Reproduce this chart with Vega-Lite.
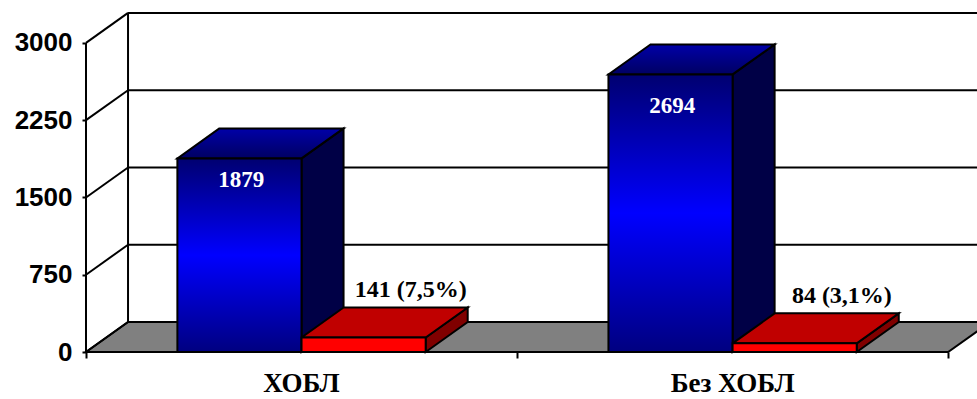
{
  "$schema": "https://vega.github.io/schema/vega-lite/v6.json",
  "width": 891,
  "height": 340,
  "autosize": {"type": "none"},
  "padding": {"left": 86, "top": 12, "right": 0, "bottom": 47},
  "background": "white",
  "config": {"view": {"stroke": null}},
  "datasets": {
    "bars": [
      {"cat": "ХОБЛ", "series": "Всего", "value": 1879, "label": "1879"},
      {"cat": "ХОБЛ", "series": "Умерли", "value": 141, "label": "141 (7,5%)"},
      {"cat": "Без ХОБЛ", "series": "Всего", "value": 2694, "label": "2694"},
      {"cat": "Без ХОБЛ", "series": "Умерли", "value": 84, "label": "84 (3,1%)"}
    ],
    "ticks": [{"v": 0}, {"v": 750}, {"v": 1500}, {"v": 2250}, {"v": 3000}]
  },
  "encoding": {
    "x": {"field": "X", "type": "quantitative", "stack": null,
      "scale": {"domain": [0, 2.067], "nice": false, "zero": false},
      "axis": {"values": [0, 1, 2], "labels": false, "domain": false, "grid": false, "ticks": true, "tickSize": 6, "tickWidth": 2, "tickColor": "black", "title": null}},
    "y": {"field": "Y", "type": "quantitative", "stack": null,
      "scale": {"domain": [0, 3300], "nice": false, "zero": false},
      "axis": {"values": [0, 750, 1500, 2250, 3000], "format": "d", "domain": false, "grid": false, "ticks": true, "tickSize": 4, "tickWidth": 2, "tickColor": "black",
        "labelFont": "Liberation Sans", "labelFontSize": 26, "labelFontWeight": "bold", "labelColor": "black", "labelPadding": 10, "labelFlush": false, "labelOverlap": false, "title": null}}
  },
  "layer": [
    {
      "data": {"name": "ticks"},
      "transform": [
        {"filter": "datum.v == 0"},
        {"calculate": "[0,1]", "as": "d"},
        {"flatten": ["d"]},
        {"calculate": "datum.d * 291", "as": "Y"},
        {"calculate": "datum.d * 0.0975", "as": "X"},
        {"calculate": "2 + datum.d * 0.0975", "as": "X2"}
      ],
      "mark": {"type": "area", "orient": "horizontal", "fill": "#808080", "stroke": "black", "strokeWidth": 2, "strokeJoin": "miter"},
      "encoding": {"x2": {"field": "X2"}}
    },
    {
      "data": {"name": "ticks"},
      "transform": [
        {"calculate": "datum.v + 291", "as": "Y"},
        {"calculate": "0.0975", "as": "X"},
        {"calculate": "2.2", "as": "X2"}
      ],
      "mark": {"type": "rule", "stroke": "black", "strokeWidth": 2},
      "encoding": {"x2": {"field": "X2"}}
    },
    {
      "data": {"name": "ticks"},
      "transform": [
        {"filter": "datum.v == 3000"},
        {"calculate": "291", "as": "Y"},
        {"calculate": "datum.v + 291", "as": "Y2"},
        {"calculate": "0.0975", "as": "X"}
      ],
      "mark": {"type": "rule", "stroke": "black", "strokeWidth": 2},
      "encoding": {"y2": {"field": "Y2"}}
    },
    {
      "data": {"name": "ticks"},
      "transform": [
        {"calculate": "datum.v", "as": "Y"},
        {"calculate": "datum.v + 291", "as": "Y2"},
        {"calculate": "0", "as": "X"},
        {"calculate": "0.0975", "as": "X2"}
      ],
      "mark": {"type": "rule", "stroke": "black", "strokeWidth": 2},
      "encoding": {"x2": {"field": "X2"}, "y2": {"field": "Y2"}}
    },
    {
      "data": {"name": "ticks"},
      "transform": [
        {"filter": "datum.v == 3000"},
        {"calculate": "0", "as": "Y"},
        {"calculate": "datum.v", "as": "Y2"},
        {"calculate": "0", "as": "X"}
      ],
      "mark": {"type": "rule", "stroke": "black", "strokeWidth": 2},
      "encoding": {"y2": {"field": "Y2"}}
    },
    {
      "data": {"name": "bars"},
      "transform": [
        {"calculate": "indexof(['ХОБЛ','Без ХОБЛ'], datum.cat)", "as": "ci"},
        {"calculate": "datum.series == 'Всего' ? 0 : 1", "as": "si"},
        {"calculate": "datum.ci + 0.212 + datum.si * 0.288", "as": "x0"},
        {"calculate": "datum.x0 + 0.288", "as": "x1"},
        {"calculate": "[0,1]", "as": "d"},
        {"flatten": ["d"]},
        {"calculate": "datum.x1 + datum.d * 0.0975", "as": "X"},
        {"calculate": "datum.d * 291", "as": "Y"},
        {"calculate": "datum.value + datum.d * 291", "as": "Y2"},
        {"calculate": "datum.cat + '|' + datum.series", "as": "key"}
      ],
      "mark": {"type": "area", "orient": "vertical", "stroke": "black", "strokeWidth": 2, "strokeJoin": "miter"},
      "encoding": {
        "y2": {"field": "Y2"},
        "detail": {"field": "key", "type": "nominal"},
        "fill": {"condition": {"test": "datum.si == 0", "value": "#000046"}, "value": "#800000"}
      }
    },
    {
      "data": {"name": "bars"},
      "transform": [
        {"calculate": "indexof(['ХОБЛ','Без ХОБЛ'], datum.cat)", "as": "ci"},
        {"calculate": "datum.series == 'Всего' ? 0 : 1", "as": "si"},
        {"filter": "datum.si == 0"},
        {"calculate": "datum.ci + 0.212 + datum.si * 0.288", "as": "x0"},
        {"calculate": "datum.x0 + 0.288", "as": "x1"},
        {"calculate": "[0,1]", "as": "d"},
        {"flatten": ["d"]},
        {"calculate": "datum.x0 + datum.d * 0.0975", "as": "X"},
        {"calculate": "datum.x1 + datum.d * 0.0975", "as": "X2"},
        {"calculate": "datum.value + datum.d * 291", "as": "Y"},
        {"calculate": "datum.cat + '|' + datum.series", "as": "key"}
      ],
      "mark": {"type": "area", "orient": "horizontal", "stroke": "black", "strokeWidth": 2, "strokeJoin": "miter",
        "fill": {"gradient": "linear", "x1": 0, "y1": 0, "x2": 0, "y2": 1, "stops": [{"offset": 0, "color": "#0000a8"}, {"offset": 1, "color": "#000062"}]}},
      "encoding": {
        "x2": {"field": "X2"},
        "detail": {"field": "key", "type": "nominal"}
      }
    },
    {
      "data": {"name": "bars"},
      "transform": [
        {"calculate": "indexof(['ХОБЛ','Без ХОБЛ'], datum.cat)", "as": "ci"},
        {"calculate": "datum.series == 'Всего' ? 0 : 1", "as": "si"},
        {"filter": "datum.si == 1"},
        {"calculate": "datum.ci + 0.212 + datum.si * 0.288", "as": "x0"},
        {"calculate": "datum.x0 + 0.288", "as": "x1"},
        {"calculate": "[0,1]", "as": "d"},
        {"flatten": ["d"]},
        {"calculate": "datum.x0 + datum.d * 0.0975", "as": "X"},
        {"calculate": "datum.x1 + datum.d * 0.0975", "as": "X2"},
        {"calculate": "datum.value + datum.d * 291", "as": "Y"},
        {"calculate": "datum.cat + '|' + datum.series", "as": "key"}
      ],
      "mark": {"type": "area", "orient": "horizontal", "stroke": "black", "strokeWidth": 2, "strokeJoin": "miter", "fill": "#c00000"},
      "encoding": {
        "x2": {"field": "X2"},
        "detail": {"field": "key", "type": "nominal"}
      }
    },
    {
      "data": {"name": "bars"},
      "transform": [
        {"calculate": "indexof(['ХОБЛ','Без ХОБЛ'], datum.cat)", "as": "ci"},
        {"calculate": "datum.series == 'Всего' ? 0 : 1", "as": "si"},
        {"filter": "datum.si == 0"},
        {"calculate": "datum.ci + 0.212 + datum.si * 0.288", "as": "X"},
        {"calculate": "datum.X + 0.288", "as": "X2"},
        {"calculate": "datum.value", "as": "Y"},
        {"calculate": "0", "as": "Y2"}
      ],
      "mark": {"type": "rect", "stroke": "black", "strokeWidth": 2,
        "fill": {"gradient": "linear", "x1": 0, "y1": 0, "x2": 0, "y2": 1, "stops": [{"offset": 0, "color": "#000070"}, {"offset": 0.5, "color": "#0000ff"}, {"offset": 1, "color": "#000080"}]}},
      "encoding": {"x2": {"field": "X2"}, "y2": {"field": "Y2"}}
    },
    {
      "data": {"name": "bars"},
      "transform": [
        {"calculate": "indexof(['ХОБЛ','Без ХОБЛ'], datum.cat)", "as": "ci"},
        {"calculate": "datum.series == 'Всего' ? 0 : 1", "as": "si"},
        {"filter": "datum.si == 1"},
        {"calculate": "datum.ci + 0.212 + datum.si * 0.288", "as": "X"},
        {"calculate": "datum.X + 0.288", "as": "X2"},
        {"calculate": "datum.value", "as": "Y"},
        {"calculate": "0", "as": "Y2"}
      ],
      "mark": {"type": "rect", "stroke": "black", "strokeWidth": 2, "fill": "#ff0000"},
      "encoding": {"x2": {"field": "X2"}, "y2": {"field": "Y2"}}
    },
    {
      "data": {"name": "bars"},
      "transform": [
        {"calculate": "indexof(['ХОБЛ','Без ХОБЛ'], datum.cat)", "as": "ci"},
        {"calculate": "datum.series == 'Всего' ? 0 : 1", "as": "si"},
        {"filter": "datum.si == 0"},
        {"calculate": "datum.ci + 0.212 + 0.144 + 0.004", "as": "X"},
        {"calculate": "datum.value * 0.886", "as": "Y"}
      ],
      "mark": {"type": "text", "font": "Liberation Serif", "fontSize": 23, "fontWeight": "bold", "color": "white", "baseline": "middle", "align": "center"},
      "encoding": {"text": {"field": "label"}}
    },
    {
      "data": {"name": "bars"},
      "transform": [
        {"calculate": "indexof(['ХОБЛ','Без ХОБЛ'], datum.cat)", "as": "ci"},
        {"calculate": "datum.series == 'Всего' ? 0 : 1", "as": "si"},
        {"filter": "datum.si == 1"},
        {"calculate": "datum.ci + 0.5 + 0.144 + 0.0975 + 0.012", "as": "X"},
        {"calculate": "datum.value + 291", "as": "Y"}
      ],
      "mark": {"type": "text", "font": "Liberation Serif", "fontSize": 24, "fontWeight": "bold", "color": "black", "baseline": "alphabetic", "align": "center", "dy": -10},
      "encoding": {"text": {"field": "label"}}
    },
    {
      "data": {"name": "bars"},
      "transform": [
        {"calculate": "indexof(['ХОБЛ','Без ХОБЛ'], datum.cat)", "as": "ci"},
        {"filter": "datum.series == 'Всего'"},
        {"calculate": "datum.ci + 0.5", "as": "X"},
        {"calculate": "0", "as": "Y"}
      ],
      "mark": {"type": "text", "font": "Liberation Serif", "fontSize": 27, "fontWeight": "bold", "color": "black", "baseline": "alphabetic", "align": "center", "dy": 40},
      "encoding": {"text": {"field": "cat"}}
    }
  ]
}
